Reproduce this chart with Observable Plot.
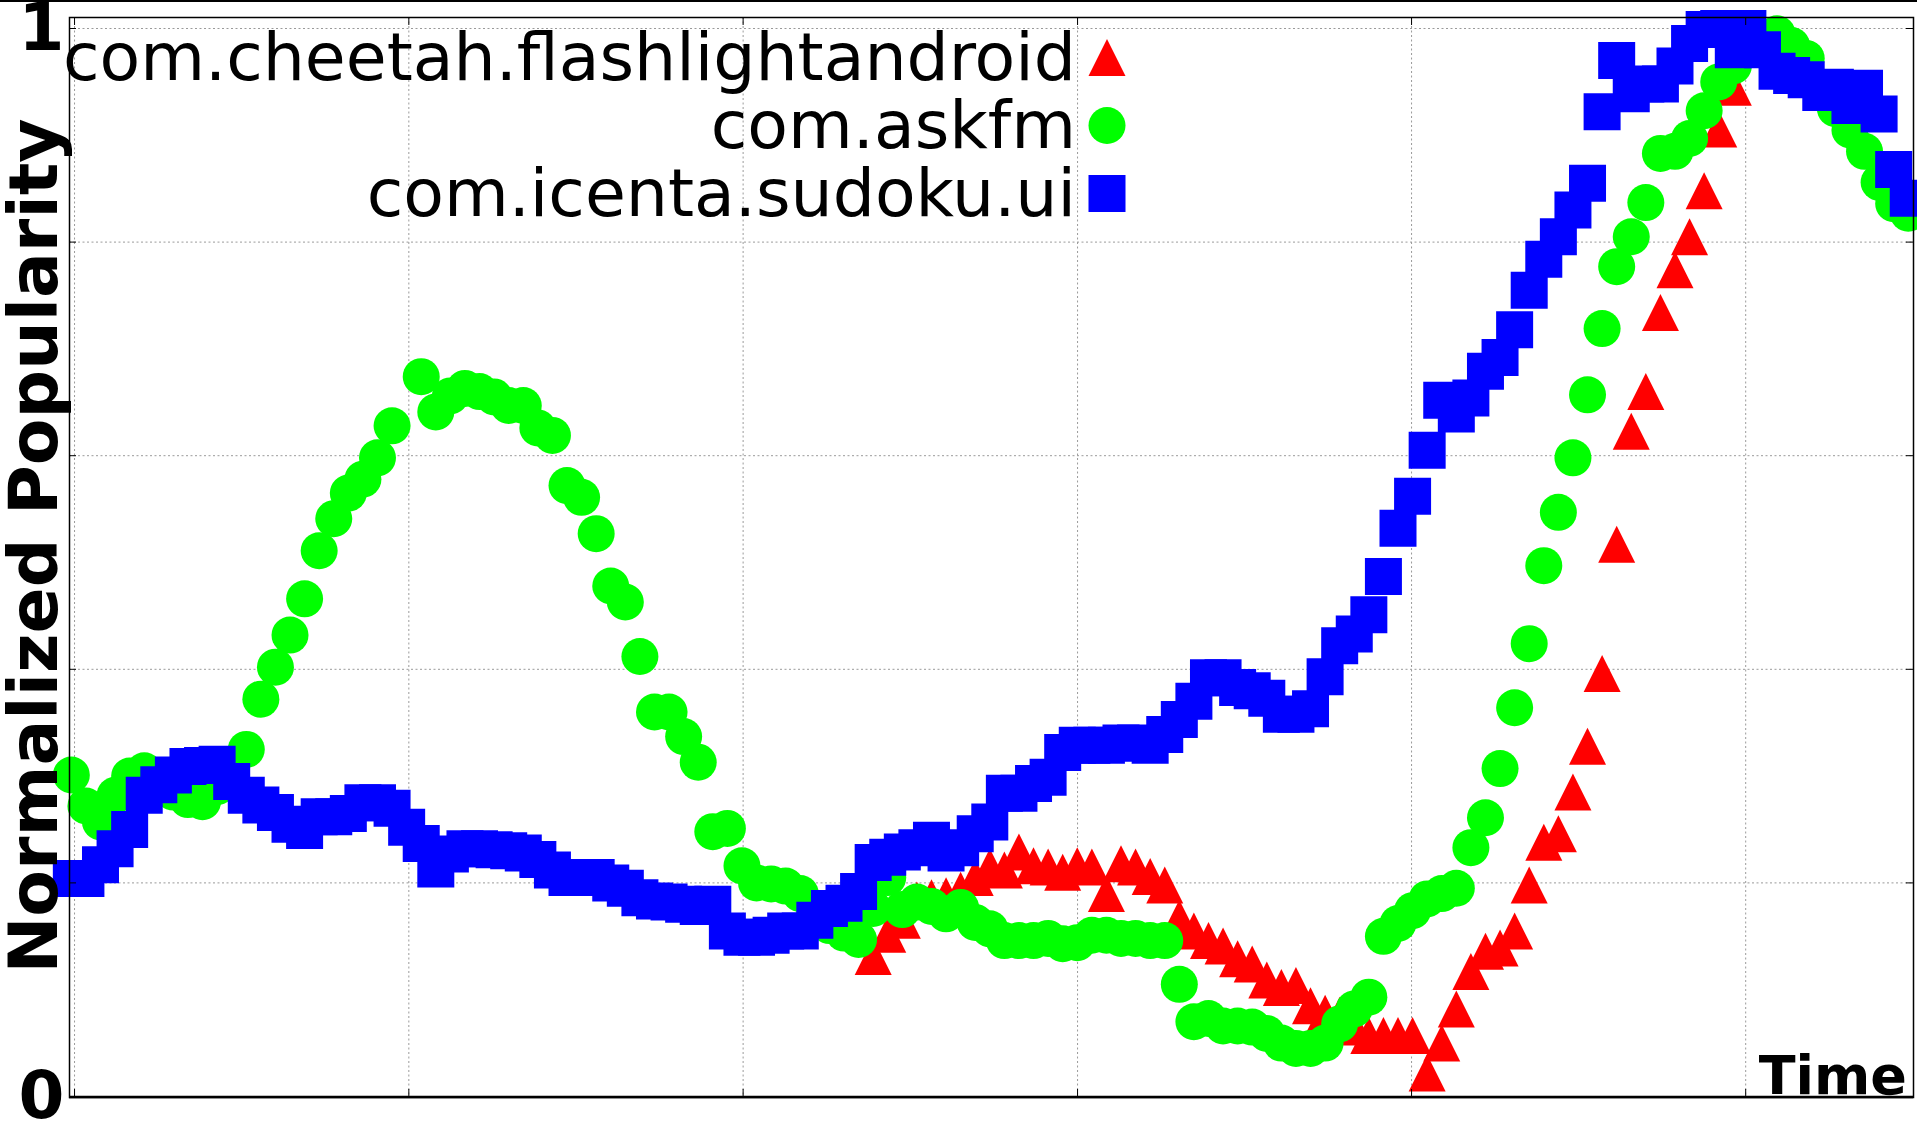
<!DOCTYPE html>
<html><head><meta charset="utf-8">
<script src="https://cdn.jsdelivr.net/npm/d3@7"></script>
<script src="https://cdn.jsdelivr.net/npm/@observablehq/plot@0.6"></script>
<style>
html,body{margin:0;padding:0;background:#fff;}
#chart{position:relative;width:1917px;height:1130px;overflow:hidden;background:#fff;}
</style></head><body><div id="chart"></div>
<script>
// ---- data ----
const seriesNames = ["com.cheetah.flashlightandroid", "com.askfm", "com.icenta.sudoku.ui"];
const seriesColors = ["#ff0000", "#00ff00", "#0000ff"];
const sampleCount = 127;           // samples along the time axis
const cheetahStart = 55;           // first sample index of the red series
const cheetah = [0.131,0.152,0.165,0.184,0.186,0.188,0.193,0.205,0.215,0.212,
 0.229,0.216,0.215,0.210,0.216,0.215,0.190,0.218,0.215,0.206,
 0.198,0.167,0.155,0.146,0.141,0.129,0.124,0.109,0.102,0.104,
 0.085,0.078,0.076,0.065,0.057,0.057,0.057,0.057,0.022,0.050,
 0.082,0.117,0.136,0.139,0.155,0.198,0.238,0.246,0.285,0.328,
 0.396,0.517,0.623,0.660,0.734,0.774,0.805,0.848,0.906,0.945,
 1.000];
const askfm = [0.301,0.272,0.257,0.282,0.300,0.305,0.299,0.285,0.278,0.276,
 0.290,0.295,0.325,0.372,0.402,0.432,0.466,0.511,0.541,0.565,
 0.578,0.598,0.628,null,0.674,0.641,0.656,0.663,0.660,0.655,
 0.647,0.647,0.626,0.619,0.572,0.561,0.527,0.478,0.463,0.412,
 0.360,0.360,0.337,0.313,0.248,0.251,0.216,0.200,0.199,0.197,
 0.190,0.172,0.160,0.153,0.147,0.176,0.205,0.175,0.182,0.178,
 0.171,0.177,0.163,0.157,0.146,0.146,0.146,0.148,0.143,0.144,
 0.151,0.151,0.148,0.148,0.146,0.146,0.105,0.070,0.073,0.066,
 0.066,0.065,0.059,0.050,0.045,0.045,0.050,0.068,0.082,0.093,
 0.150,0.162,0.174,0.185,0.190,0.195,0.233,0.261,0.307,0.364,
 0.424,0.497,0.547,0.598,0.657,0.719,0.777,0.805,0.837,0.883,
 0.885,0.897,0.923,0.950,0.965,0.980,0.990,0.995,0.984,0.972,
 0.945,0.925,0.905,0.885,0.856,0.836,0.827];
const sudoku = [0.204,0.204,0.217,0.232,0.250,0.282,0.292,0.301,0.309,0.310,
 0.311,0.295,0.282,0.273,0.266,0.255,0.249,0.262,0.262,0.265,
 0.275,0.275,0.270,0.252,0.237,0.213,0.227,0.232,0.232,0.231,
 0.230,0.228,0.222,0.212,0.205,0.205,0.205,0.200,0.195,0.186,
 0.183,0.182,0.180,0.178,0.180,0.155,0.149,0.149,0.151,0.155,
 0.155,0.165,0.176,0.181,0.192,0.219,0.224,0.229,0.233,0.240,
 0.228,0.233,0.246,0.257,0.284,0.284,0.293,0.299,0.322,0.329,
 0.329,0.329,0.331,0.331,0.329,0.339,0.353,0.370,0.392,0.392,
 0.383,0.380,0.373,0.358,0.358,0.363,0.393,0.422,0.433,0.451,
 0.487,0.532,0.562,0.605,0.652,0.639,0.654,0.679,0.692,0.718,
 0.755,0.784,0.805,0.830,0.855,0.922,0.970,0.939,0.948,0.948,
 0.965,0.986,0.999,1.000,0.980,1.000,0.980,0.960,0.956,0.952,
 0.940,0.945,0.928,0.944,0.920,0.868,0.841];
const xGridTicks = [0.22, 23.15, 46.08, 69.02, 91.93, 114.85];
const yGridTicks = [0, 0.2, 0.4, 0.6, 0.8, 1];
const yLabelTicks = [0, 1];
const xLabel = "Time";
const yLabel = "Normalized Popularity";

// ---- build tables ----
const rowsOf = (vals, start) => vals.map((v, i) => ({t: i + start, v})).filter(d => d.v != null);
const redRows = rowsOf(cheetah, cheetahStart);
const greenRows = rowsOf(askfm, 0);
const blueRows = rowsOf(sudoku, 0);

// gnuplot-like symbols (all 37px boxes)
const symTriangle = {draw(c, s) { const r = Math.sqrt(s / Math.PI); c.moveTo(0, -r); c.lineTo(r, r); c.lineTo(-r, r); c.closePath(); }};
const symCircle = {draw(c, s) { const r = Math.sqrt(s / Math.PI); c.moveTo(r, 0); c.arc(0, 0, r, 0, 2 * Math.PI); c.closePath(); }};
const symSquare = {draw(c, s) { const r = Math.sqrt(s / Math.PI); c.rect(-r, -r, 2 * r, 2 * r); }};
const symbols = [symTriangle, symCircle, symSquare];
const R = 18.5;

const W = 1917, H = 1130, ML = 69, MR = 4, MT = 17, MB = 33;
const innerW = W - ML - MR, innerH = H - MT - MB;

const grid = {stroke: "#9a9a9a", strokeOpacity: 1, strokeWidth: 1, strokeDasharray: "2,2.5"};

const plot = Plot.plot({
  width: W, height: H,
  marginLeft: ML, marginRight: MR, marginTop: MT, marginBottom: MB,
  style: {background: "#fff", overflow: "visible", fontFamily: "'DejaVu Sans', sans-serif", color: "#000"},
  x: {domain: [-0.126, 126.36], axis: null},
  y: {domain: [-0.00094, 1.0103], axis: null},
  marks: [
    Plot.gridX(xGridTicks, grid),
    Plot.gridY(yGridTicks, grid),
    Plot.dot(redRows, {x: "t", y: "v", symbol: symbols[0], r: R, fill: seriesColors[0], stroke: "none"}),
    Plot.dot(greenRows, {x: "t", y: "v", symbol: symbols[1], r: R, fill: seriesColors[1], stroke: "none"}),
    Plot.dot(blueRows, {x: "t", y: "v", symbol: symbols[2], r: R, fill: seriesColors[2], stroke: "none"}),
    Plot.frame({stroke: "#000", strokeWidth: 1.5}),
    Plot.tickX(xGridTicks, {x: d => d, insetTop: innerH - 8, stroke: "#000"}),
    Plot.tickX(xGridTicks, {x: d => d, insetBottom: innerH - 8, stroke: "#000"}),
    Plot.tickY(yGridTicks, {y: d => d, insetRight: innerW - 7, stroke: "#000"}),
    Plot.tickY(yGridTicks, {y: d => d, insetLeft: innerW - 7, stroke: "#000"}),
    Plot.axisY(yLabelTicks, {anchor: "left", tickSize: 0, tickPadding: 5, fontSize: 66, fontWeight: "bold",
      tickFormat: d => String(d), label: null, fill: "#000"})
  ]
});
document.getElementById("chart").appendChild(plot);

// ---- decorations: bottom rule, top line, labels, legend ----
const svg = d3.select(plot);
const g = svg.append("g");
g.append("line").attr("x1", 0).attr("x2", W).attr("y1", 1).attr("y2", 1).attr("stroke", "#000").attr("stroke-width", 2);
g.append("line").attr("x1", ML).attr("x2", W - MR).attr("y1", H - MB).attr("y2", H - MB).attr("stroke", "#000").attr("stroke-width", 2.5);

g.append("text").text(yLabel)
  .attr("transform", "translate(57,546) rotate(-90)")
  .attr("text-anchor", "middle")
  .attr("font-family", "'DejaVu Sans', sans-serif").attr("font-weight", "bold").attr("font-size", 68)
  .attr("fill", "#000");

g.append("text").text(xLabel)
  .attr("x", 1907).attr("y", 1094).attr("text-anchor", "end")
  .attr("font-family", "'DejaVu Sans', sans-serif").attr("font-weight", "bold").attr("font-size", 54)
  .attr("fill", "#000");

const legendBase = [80, 148, 216];
const legendSym = [57.5, 125.5, 193.5];
seriesNames.forEach((name, i) => {
  g.append("text").text(name)
    .attr("x", 1076).attr("y", legendBase[i]).attr("text-anchor", "end")
    .attr("font-family", "'DejaVu Sans', sans-serif").attr("font-size", 66.5).attr("fill", "#000");
  g.append("path")
    .attr("d", d3.symbol().type(symbols[i]).size(Math.PI * R * R)())
    .attr("transform", `translate(1107,${legendSym[i]})`)
    .attr("fill", seriesColors[i]);
});
</script></body></html>
